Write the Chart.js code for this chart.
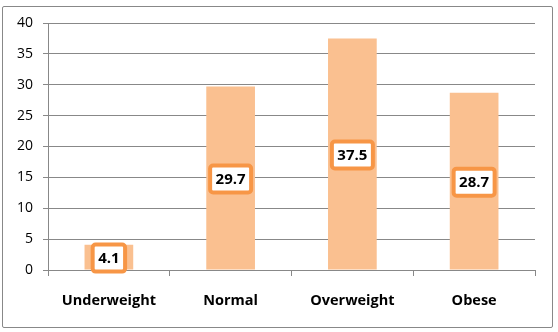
<!DOCTYPE html>
<html>
<head>
<meta charset="utf-8">
<script src="https://cdn.jsdelivr.net/npm/chart.js@4.4.0/dist/chart.umd.min.js"></script>
<style>
  body { margin: 0; background: #fff; }
  #wrap { position: relative; width: 558px; height: 332px; }
  #frame { position: absolute; left: 2px; top: 6px; width: 549px; height: 320px; border: 1px solid #888; border-radius: 2px; }
  #c { position: absolute; left: 0; top: 0; }
</style>
</head>
<body>
<div id="wrap">
  <div id="frame"></div>
  <canvas id="c" width="558" height="332"></canvas>
</div>
<script>
var categories = ["Underweight", "Normal", "Overweight", "Obese"];
var values = [4.1, 29.7, 37.5, 28.7];
var yTicks = [0, 5, 10, 15, 20, 25, 30, 35, 40];

var FONT = "'Open Sans', 'Liberation Sans', sans-serif";
var GRID = "#888888";

// value boxes centred on each bar
var boxLabels = {
  id: "boxLabels",
  afterDatasetsDraw: function(ch) {
    var c = ch.ctx;
    var meta = ch.getDatasetMeta(0);
    c.save();
    c.font = "bold 15px " + FONT;
    c.textAlign = "center";
    c.textBaseline = "middle";
    meta.data.forEach(function(bar, i) {
      var txt = values[i].toFixed(1);
      var tw = c.measureText(txt).width;
      var cx = bar.x;
      var cy = (bar.y + bar.base) / 2 + 1;
      var w = tw + 11, h = 27;
      c.beginPath();
      c.roundRect(cx - w / 2, cy - h / 2, w, h, 3);
      c.fillStyle = "#fff";
      c.fill();
      c.lineWidth = 4;
      c.strokeStyle = "#F79646";
      c.stroke();
      c.fillStyle = "#000";
      c.fillText(txt, cx, cy + 1);
    });
    c.restore();
  }
};

new Chart(document.getElementById("c"), {
  type: "bar",
  data: {
    labels: categories,
    datasets: [{
      data: values,
      backgroundColor: "#FAC090",
      borderWidth: 0,
      categoryPercentage: 1,
      barPercentage: 0.4
    }]
  },
  options: {
    responsive: false,
    animation: false,
    layout: { padding: { top: 23, right: 23, left: 0, bottom: 0 } },
    scales: {
      x: {
        afterFit: function(s) { s.height = 62; },
        grid: { offset: true, drawOnChartArea: false, color: GRID, tickLength: 6 },
        border: { color: GRID },
        ticks: { color: "#000", padding: 16, font: { family: FONT, size: 14.5, weight: "bold" } }
      },
      y: {
        min: 0,
        max: 40,
        afterFit: function(s) { s.width = 48; },
        afterBuildTicks: function(s) { s.ticks = yTicks.map(function(v) { return { value: v }; }); },
        grid: { color: GRID, tickLength: 5 },
        border: { color: GRID },
        ticks: { color: "#000", padding: 10, font: { family: FONT, size: 14 } }
      }
    },
    plugins: {
      legend: { display: false },
      tooltip: { enabled: false }
    }
  },
  plugins: [boxLabels]
});
</script>
</body>
</html>
